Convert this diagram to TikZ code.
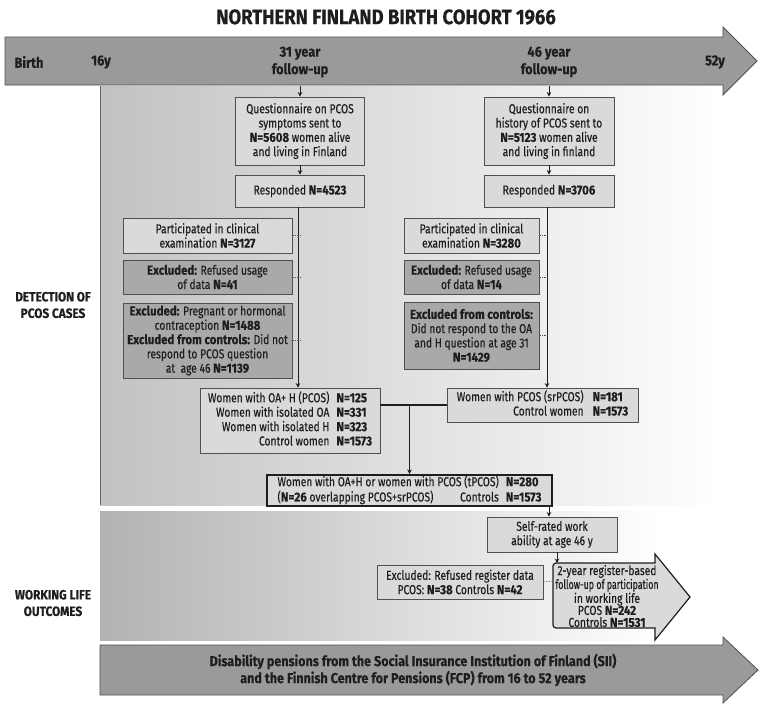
\documentclass[tikz,border=0pt]{standalone}
\usepackage{fontspec}
\setmainfont{Fira Sans}[UprightFeatures={FakeStretch=0.79, FakeBold=0.3}, BoldFeatures={FakeStretch=0.88, FakeBold=0.3}]
\newfontfamily\narrowf{Fira Sans}[FakeStretch=0.68, FakeBold=0.3]
\usetikzlibrary{arrows.meta,calc}
\definecolor{boxfill}{HTML}{DADADA}
\definecolor{exfill}{HTML}{A9A9A9}
\definecolor{boxline}{HTML}{505050}
\definecolor{tlfill}{HTML}{9A9A9A}
\definecolor{txt}{HTML}{1E1E1E}
\definecolor{panelL}{HTML}{C2C2C2}
\definecolor{panelW}{HTML}{B2B2B2}
\newcommand\fs{\fontsize{13}{14.3}\selectfont}
\newcommand\fsm{\fontsize{13}{12}\selectfont}
\begin{document}
\begin{tikzpicture}[x=1pt,y=-1pt,
  box/.style={draw=boxline, fill=boxfill, line width=0.8pt, align=center, inner sep=0pt, font=\fs, text=txt},
  exbox/.style={box, fill=exfill},
  conn/.style={draw=txt, line width=1pt, -{Stealth[length=4.5pt,width=4.5pt]}},
  dconn/.style={draw=boxline, line width=0.5pt, dashed, dash pattern=on 1.5pt off 1pt},
  lab/.style={font=\bfseries\fontsize{14.5}{17.5}\selectfont, text=txt, align=center},
  side/.style={font=\bfseries\fontsize{13.4}{16.5}\selectfont, text=txt, align=center},
  tl/.style={draw=boxline, fill=tlfill, line width=0.8pt}]
\useasboundingbox (0,0) rectangle (762,707);
\fill[white] (0,0) rectangle (762,707);
% panels
\shade[left color=panelL, right color=white] (100,86) rectangle (720,505);
\draw[gray!80!black, line width=1.5pt] (100.5,86) -- (100.5,505);
\shade[left color=panelW, right color=white] (100,511) rectangle (660,640);
% title
\node[font=\bfseries\fontsize{21}{23}\selectfont, text=txt] (title) at (386,17) {NORTHERN FINLAND BIRTH COHORT 1966};
% timeline arrows
\draw[tl] (5,37) -- (723,37) -- (723,27) -- (757,61) -- (723,95) -- (723,85) -- (5,85) -- cycle;
\draw[tl] (100,645) -- (723,645) -- (723,637) -- (758,670) -- (723,703) -- (723,695) -- (100,695) -- cycle;
\node[lab] (birth) at (29,62) {Birth};
\node[lab] (y16) at (101,62) {16y};
\node[lab] (y31) at (300,62) {31 year\\follow-up};
\node[lab] (y46) at (549,62) {46 year\\follow-up};
\node[lab] (y52) at (715,62) {52y};
\node[font=\bfseries\fontsize{14.3}{17}\selectfont, text=txt, align=center] (pens) at (413,670) {Disability pensions from the Social Insurance Institution of Finland (SII)\\and the Finnish Centre for Pensions (FCP) from 16 to 52 years};
\coordinate (t31) at (300,85.5);
\coordinate (t46) at (549,85.5);
% side labels
\node[side] (det) at (53,305) {DETECTION OF\\PCOS CASES};
\node[side] (work) at (53,603) {WORKING LIFE\\OUTCOMES};
% boxes 31y
\node[box, minimum width=129, minimum height=68] (Q1) at (300,131) {Questionnaire on PCOS\\symptoms sent to\\\textbf{N=5608} women alive\\and living in Finland};
\node[box, minimum width=129, minimum height=32] (R1) at (300,191) {Responded \textbf{N=4523}};
\node[box, minimum width=169, minimum height=35] (P1) at (207.5,235.5) {Participated in clinical\\examination \textbf{N=3127}};
\node[exbox, minimum width=169, minimum height=34] (E1a) at (207.5,277) {\textbf{Excluded:} Refused usage\\of data \textbf{N=41}};
\node[exbox, minimum width=169, minimum height=75] (E1b) at (207.5,340.5) {\textbf{Excluded:} Pregnant or hormonal\\contraception \textbf{N=1488}\\\textbf{Excluded from controls:} Did not\\respond to PCOS question\\at\ \ age 46 \textbf{N=1139}};
\node[box, minimum width=180, minimum height=65] (W1) at (290,420.5) {\begin{tabular}{@{}r@{\hspace{7pt}}l@{}}
Women with OA+ H (PCOS) & \textbf{N=125}\\
Women with isolated OA & \textbf{N=331}\\
Women with isolated H & \textbf{N=323}\\
Control women & \textbf{N=1573}\end{tabular}};
% boxes 46y
\node[box, minimum width=130, minimum height=68] (Q2) at (549,131) {Questionnaire on\\history of PCOS sent to\\\textbf{N=5123} women alive\\and living in finland};
\node[box, minimum width=130, minimum height=32] (R2) at (549,191) {Responded \textbf{N=3706}};
\node[box, minimum width=135, minimum height=35] (P2) at (471.5,235.5) {Participated in clinical\\examination \textbf{N=3280}};
\node[exbox, minimum width=135, minimum height=34] (E2a) at (471.5,277) {\textbf{Excluded:} Refused usage\\of data \textbf{N=14}};
\node[exbox, minimum width=135, minimum height=67] (E2b) at (471.5,335.5) {\textbf{Excluded from controls:}\\Did not respond to the OA\\and H question at age 31\\\textbf{N=1429}};
\node[box, minimum width=191, minimum height=34] (W2) at (542.5,405) {\begin{tabular}{@{}r@{\hspace{9pt}}l@{}}
Women with PCOS (srPCOS) & \textbf{N=181}\\
Control women & \textbf{N=1573}\end{tabular}};
% combined
\node[box, line width=2pt, draw=txt, minimum width=285, minimum height=31] (T) at (409.5,490.5) {\begin{tabular}{@{}l@{\hspace{7pt}}l@{}}
Women with OA+H or women with PCOS (tPCOS) & \textbf{N=280}\\
(\textbf{N=26} overlapping PCOS+srPCOS)\hfill Controls & \textbf{N=1573}\end{tabular}};
% working life
\node[box, minimum width=130, minimum height=35] (S) at (552,534.5) {Self-rated work\\ability at age 46 y};
\node[box, minimum width=166, minimum height=34] (X) at (460,582) {Excluded: Refused register data\\PCOS: \textbf{N=38} Controls \textbf{N=42}};
\draw[draw=txt, fill=boxfill, line width=1.2pt] (655,563) -- (655,554) -- (690,597) -- (655,640) -- (655,628) {[rounded corners=3pt] -- (553,628) -- (553,563)} -- cycle;
\node[font=\fsm, text=txt, align=center] (A) at (607,596) {2-year register-based\\{\narrowf follow-up of participation}\\in working life\\PCOS \textbf{N=242}\\Controls \textbf{N=1531}};
\coordinate (Atop) at (557,563);
\coordinate (Aleft) at (553,581);
% connectors
\draw[conn] (t31) -- (Q1.north);
\draw[conn] (t46) -- (Q2.north);
\draw[conn] (Q1.south) -- (R1.north);
\draw[conn] (Q2.south) -- (R2.north);
\draw[conn] ([xshift=-2pt]R1.south) -- ([xshift=-2pt]R1.south |- W1.north);
\draw[conn] ([xshift=-2pt]R2.south) -- ([xshift=-2pt]R2.south |- W2.north);
\draw[dconn] (P1.east) -- (P1.east -| R1.south);
\draw[dconn] (E1a.east) -- (E1a.east -| R1.south);
\draw[dconn] (E1b.east) -- (E1b.east -| R1.south);
\draw[dconn] (P2.east) -- (P2.east -| R2.south);
\draw[dconn] (E2a.east) -- (E2a.east -| R2.south);
\draw[dconn] (E2b.east) -- (E2b.east -| R2.south);
\draw[txt, line width=1.2pt] (W1.east |- W2.west) -- (W2.west);
\coordinate (j) at (T.north |- W2.west);
\draw[conn] (j) -- (T.north);
\coordinate (ts) at ([xshift=-4pt]T.south east);
\draw[conn] (ts) -- (ts |- S.north);
\coordinate (ss) at ([xshift=5pt]S.south);
\draw[conn] (ss) -- (Atop);
\draw[dconn] (X.east) -- (Aleft);
\end{tikzpicture}
\end{document}
